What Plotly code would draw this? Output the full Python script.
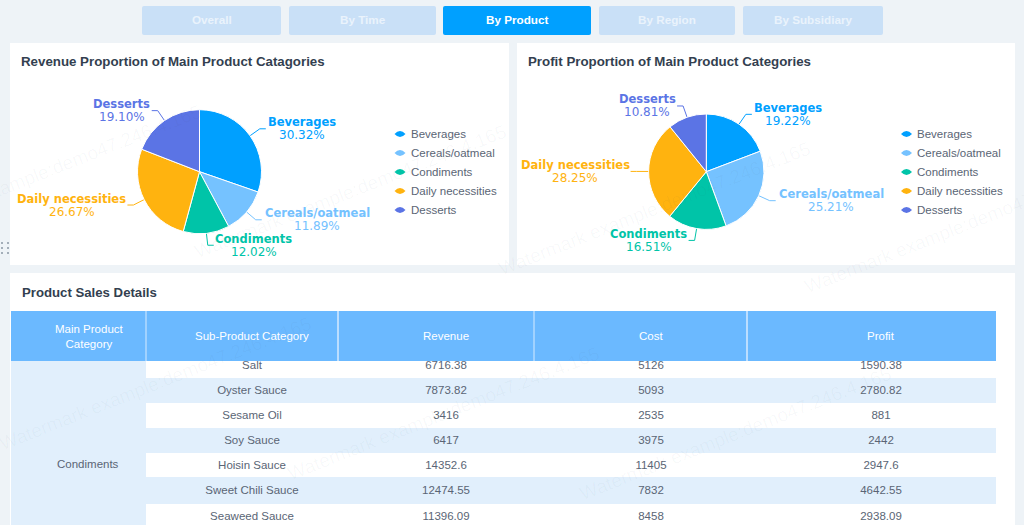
import math
import plotly.graph_objects as go

# --- DATA ---
categories = ["Beverages", "Cereals/oatmeal", "Condiments", "Daily necessities", "Desserts"]
revenue_share = [30.32, 11.89, 12.02, 26.67, 19.10]
profit_share = [19.22, 25.21, 16.51, 28.25, 10.81]
colors = ["#00A0FF", "#75C2FF", "#00C4A8", "#FFB30F", "#5B74E5"]

tabs = ["Overall", "By Time", "By Product", "By Region", "By Subsidiary"]
active_tab = "By Product"

table_headers = ["Main Product<br>Category", "Sub-Product Category", "Revenue", "Cost", "Profit"]
main_category = "Condiments"
sub_products = ["Salt", "Oyster Sauce", "Sesame Oil", "Soy Sauce", "Hoisin Sauce", "Sweet Chili Sauce", "Seaweed Sauce"]
revenue_vals = ["6716.38", "7873.82", "3416", "6417", "14352.6", "12474.55", "11396.09"]
cost_vals = ["5126", "5093", "2535", "3975", "11405", "7832", "8458"]
profit_vals = ["1590.38", "2780.82", "881", "2442", "2947.6", "4642.55", "2938.09"]

watermark = "Watermark example:demo47.246.4.165"

# --- LAYOUT CONSTANTS (pixels) ---
W, H = 1024, 525
BG = "#EEF3F7"
TITLE_COLOR = "#333F50"
TEXT_COLOR = "#5A6575"
LABEL_FONT = "DejaVu Sans"
TEXT_FONT = "Liberation Sans"

tab_edges = [(142, 281), (289, 436), (443, 591), (599, 735), (743, 883)]
col_edges = [11, 146, 338, 534, 747, 996]
row_edges = [353, 378, 403, 428, 453, 477, 504, 529]
label_widths = [68, 107, 76, 107, 56]
legend_rows = [134, 153, 172, 191, 210]
wm_starts = [(-5, 447), (283, 477), (575, 497), (880, 513), (-115, 235),
             (190, 255), (494, 272), (800, 290), (115, 15), (420, 30), (713, 55), (1012, 80)]

fig = go.Figure()
shapes = []
annotations = []


def rect(x0, y0, x1, y1, fill, layer="below"):
    shapes.append(dict(type="rect", xref="x", yref="y", x0=x0, y0=y0, x1=x1, y1=y1,
                       fillcolor=fill, line_width=0, layer=layer))


def text(x, y, s, size=11.5, color=TEXT_COLOR, family=TEXT_FONT, anchor="center", **kw):
    annotations.append(dict(xref="x", yref="y", x=x, y=y, text=s, showarrow=False, xanchor=anchor,
                            yanchor="middle", font=dict(size=size, color=color, family=family), **kw))


# panels
rect(10, 43, 509, 265, "white")
rect(517, 43, 1015, 265, "white")
rect(10, 273, 1015, 525, "white")

# tabs
for label, (x0, x1) in zip(tabs, tab_edges):
    on = label == active_tab
    fill = "#00A0FF" if on else "#C9E0F7"
    y0, y1, r = 6, 35, 2
    shapes.append(dict(type="path", xref="x", yref="y", layer="below", fillcolor=fill, line_width=0,
                       path=f"M{x0+r},{y0} L{x1-r},{y0} Q{x1},{y0} {x1},{y0+r} L{x1},{y1-r} Q{x1},{y1} {x1-r},{y1} "
                            f"L{x0+r},{y1} Q{x0},{y1} {x0},{y1-r} L{x0},{y0+r} Q{x0},{y0} {x0+r},{y0} Z"))
    text((x0 + x1) / 2, 19, f"<b>{label}</b>", size=11.7, color="white" if on else "#EAF3FC")

# titles
text(19, 61, "<b>Revenue Proportion of Main Product Catagories</b>", size=13.3, color=TITLE_COLOR, anchor="left")
text(526, 61, "<b>Profit Proportion of Main Product Categories</b>", size=13.3, color=TITLE_COLOR, anchor="left")
text(20, 292, "<b>Product Sales Details</b>", size=13.2, color=TITLE_COLOR, anchor="left")


# --- PIES ---
def add_pie(values, cx, cy, r, legend_x):
    fig.add_trace(go.Pie(
        labels=categories, values=values, sort=False, direction="clockwise", rotation=0,
        textinfo="none", showlegend=False, hoverinfo="label+percent",
        marker=dict(colors=colors, line=dict(color="white", width=1)),
        domain=dict(x=[(cx - r) / W, (cx + r) / W], y=[1 - (cy + r) / H, 1 - (cy - r) / H]),
    ))
    # leader lines and labels follow each slice's mid angle
    cum = 0
    for name, v, color, w in zip(categories, values, colors, label_widths):
        a = (cum + v / 2) / sum(values) * 2 * math.pi
        cum += v
        sx, sy = math.sin(a), -math.cos(a)
        side = 1 if sx > 0 else -1
        ex, ey = cx + r * sx, cy + r * sy
        mx, my = cx + (r + 12) * sx, cy + (r + 12) * sy
        endx = mx + 6 * side
        shapes.append(dict(type="path", xref="x", yref="y", layer="below",
                           path=f"M{ex},{ey} L{mx},{my} L{endx},{my}", line=dict(color=color, width=1)))
        tc = endx + side * (w / 2 + 2)
        text(tc, my - 6.5, f"<b>{name}</b>", size=11.5, color=color, family=LABEL_FONT)
        text(tc, my + 6.5, f"{v:.2f}%", size=12, color=color, family=LABEL_FONT)
    # legend
    for name, color, y in zip(categories, colors, legend_rows):
        x = legend_x
        shapes.append(dict(type="path", xref="x", yref="y", layer="below", fillcolor=color, line_width=0,
                           path=f"M{x-5.5},{y} Q{x},{y-6} {x+5.5},{y} Q{x},{y+6} {x-5.5},{y} Z"))
        text(x + 8.5, y, name, anchor="left")


add_pie(revenue_share, 199.5, 171.7, 62, 400)
add_pie(profit_share, 706.3, 171.7, 57.7, 906.5)

# --- TABLE ---
rect(col_edges[0], 361, col_edges[1], 525, "#E1EFFC")
row_mid = []
for i in range(len(sub_products)):
    y0, y1 = row_edges[i], row_edges[i + 1]
    row_mid.append((y0 + y1) / 2 + 1)
    if i % 2 == 1:
        rect(col_edges[1], y0, col_edges[-1], y1, "#E1EFFC")
text(88, 463.5, main_category)

# header sits over the scrolled first row
rect(col_edges[0], 311, col_edges[-1], 361, "#6BB9FF")
for x, w in zip(col_edges[1:-1], [1, 1.5, 1, 1.5]):
    shapes.append(dict(type="line", xref="x", yref="y", x0=x, x1=x, y0=311, y1=361, layer="below",
                       line=dict(color="#D7EBFF", width=w)))
col_centers = [89, 252, 446, 651, 881]
for cx, h in zip(col_centers, table_headers):
    text(cx, 336, h, color="white")

# body cells are scatter text so the first row clips at the header
for cx, col in zip(col_centers[1:], [sub_products, revenue_vals, cost_vals, profit_vals]):
    fig.add_trace(go.Scatter(x=[cx] * len(col), y=row_mid, text=col, mode="text", yaxis="y2", xaxis="x",
                             textposition="middle center", showlegend=False, hoverinfo="skip",
                             cliponaxis=True, textfont=dict(size=11.5, color=TEXT_COLOR, family=TEXT_FONT)))

# drag handle dots at the left edge
fig.add_trace(go.Scatter(x=[2, 8, 2, 8, 2, 8], y=[243, 243, 248, 248, 253, 253], mode="markers",
                         showlegend=False, hoverinfo="skip", marker=dict(size=2, color="#8A97A5")))

# watermark
angle = 21.5
length = 345
for sx, sy in wm_starts:
    rad = math.radians(angle)
    text(sx + length / 2 * math.cos(rad), sy - length / 2 * math.sin(rad), watermark, size=19,
         color="rgba(60,80,100,0.035)", textangle=-angle)

fig.update_layout(
    width=W, height=H, margin=dict(l=0, r=0, t=0, b=0), autosize=False,
    paper_bgcolor=BG, plot_bgcolor="rgba(0,0,0,0)", showlegend=False,
    xaxis=dict(range=[0, W], visible=False, domain=[0, 1], fixedrange=True),
    yaxis=dict(range=[H, 0], visible=False, domain=[0, 1], fixedrange=True),
    yaxis2=dict(range=[H, 361], visible=False, domain=[0, (H - 361) / H], anchor="x", fixedrange=True),
    shapes=shapes, annotations=annotations,
)

fig.write_html("out.html", config=dict(displayModeBar=False),
               post_script="document.body.style.margin='0';document.body.style.overflow='hidden';")
